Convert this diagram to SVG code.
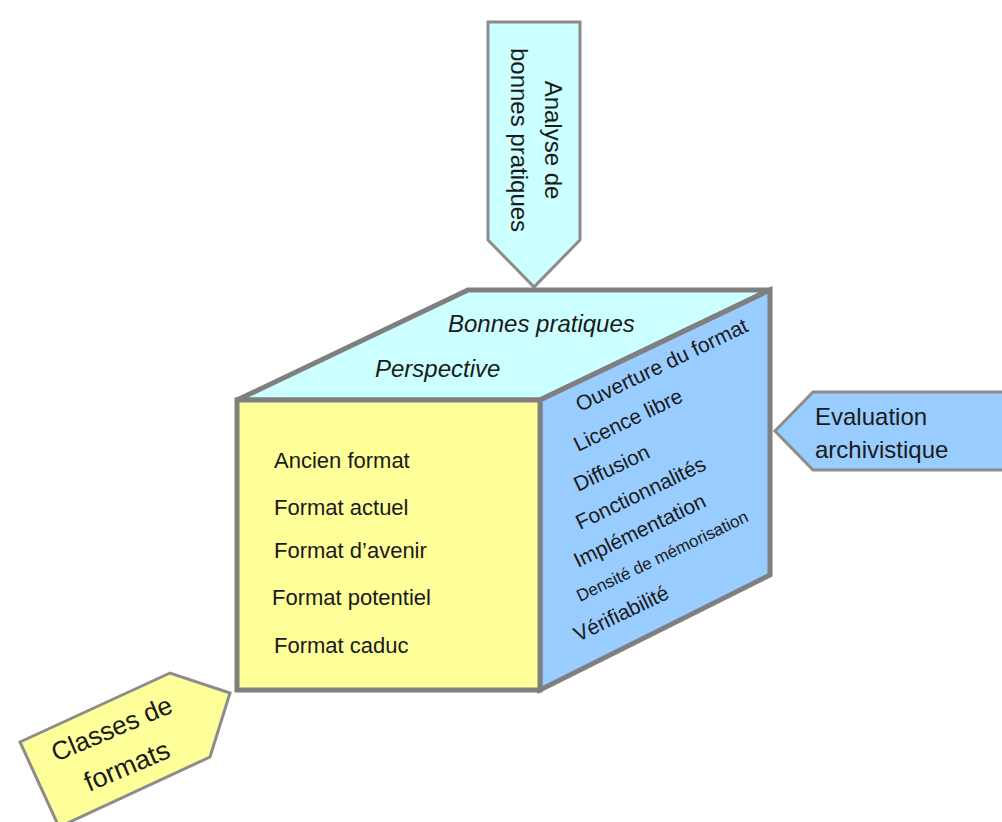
<svg xmlns="http://www.w3.org/2000/svg" width="1002" height="822" viewBox="0 0 1002 822">
<style>
.face{stroke:#7f7f7f;stroke-width:5;stroke-linejoin:miter}
.arrow{stroke:#8c8c8c;stroke-width:3;stroke-linejoin:miter}
text{font-family:"Liberation Sans",Arial,sans-serif;fill:#1a1a1a}
.it{font-style:italic;font-size:24px}
.fr{font-size:22px}
.rt{font-size:21px}
.lb{font-size:24px}
.bl{font-size:26px}
</style>
<rect width="1002" height="822" fill="#ffffff"/>
<g id="connectors">
<g id="arrow-top">
<polygon class="arrow" points="488,22 580,22 580,240 534,287 488,240" fill="#ccffff"/>
<text class="lb" transform="translate(545,140) rotate(90)" text-anchor="middle">Analyse de</text>
<text class="lb" transform="translate(511,140) rotate(90)" text-anchor="middle">bonnes pratiques</text>
</g>
<g id="arrow-right">
<polygon class="arrow" points="775,431 813,392 1010,392 1010,470 813,470" fill="#99ccff"/>
<text class="lb" x="815" y="425">Evaluation</text>
<text class="lb" x="815" y="458">archivistique</text>
</g>
<g id="arrow-left">
<polygon class="arrow" points="20,742 170,673 230,693 210,757 59,827" fill="#ffff99"/>
<text class="bl" transform="translate(56,762) rotate(-23)">Classes de</text>
<text class="bl" transform="translate(89,792) rotate(-23)" style="font-size:27px">formats</text>
</g>
</g>
<g id="cube">
<g id="top-face">
<polygon class="face" points="237,400 468,290 770,290 540,400" fill="#ccffff"/>
<text class="it" x="448" y="332">Bonnes pratiques</text>
<text class="it" x="375" y="377">Perspective</text>
</g>
<g id="right-face">
<polygon class="face" points="540,400 770,290 770,575 540,690" fill="#99ccff"/>
<text class="rt" transform="translate(580,412) rotate(-25.6)">Ouverture du format</text>
<text class="rt" transform="translate(578,452) rotate(-25.6)">Licence libre</text>
<text class="rt" transform="translate(578,492) rotate(-25.6)">Diffusion</text>
<text class="rt" transform="translate(580,530) rotate(-25.6)">Fonctionnalités</text>
<text class="rt" transform="translate(578,568) rotate(-25.6)">Implémentation</text>
<text class="rt" transform="translate(580,602) rotate(-25.6)" style="font-size:17px">Densité de mémorisation</text>
<text class="rt" transform="translate(578,642) rotate(-25.6)">Vérifiabilité</text>
</g>
<g id="front-face">
<rect class="face" x="237" y="400" width="303" height="290" fill="#ffff99"/>
<text class="fr" x="274" y="468">Ancien format</text>
<text class="fr" x="274" y="515">Format actuel</text>
<text class="fr" x="274" y="558">Format d’avenir</text>
<text class="fr" x="272" y="605">Format potentiel</text>
<text class="fr" x="274" y="653">Format caduc</text>
</g>
</g>
</svg>
